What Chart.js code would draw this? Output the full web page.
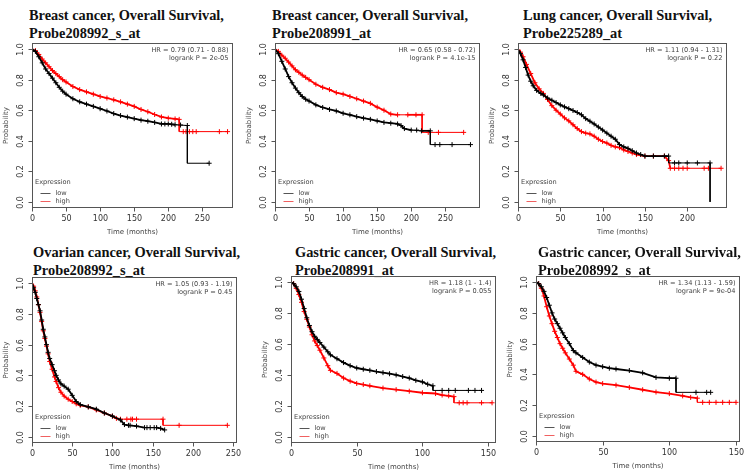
<!DOCTYPE html>
<html>
<head>
<meta charset="utf-8">
<script src="https://cdn.jsdelivr.net/npm/chart.js@4.4.1/dist/chart.umd.min.js"></script>
<style>
    html, body { margin: 0; padding: 0; background: #fff; }
    #page { position: relative; width: 745px; height: 474px; overflow: hidden; }
    .title {
        position: absolute;
        font-family: 'Liberation Serif', 'Times New Roman', serif;
        font-weight: bold;
        font-size: 15.5px;
        line-height: 18px;
        color: #111;
        white-space: nowrap;
        transform-origin: left top;
    }
    .title span { display: inline-block; }
    canvas { position: absolute; }
</style>
</head>
<body>
<div id="page"></div>
<script>
// Axis ticks
const yTicks = [0, 0.2, 0.4, 0.6, 0.8, 1.0];
const xTicks250 = [0, 50, 100, 150, 200, 250];
const xTicks200 = [0, 50, 100, 150, 200];
const xTicks150 = [0, 50, 100, 150];

// Breast cancer, Probe208992_s_at
const low1 = [[0,1],[5,0.985],[10,0.95],[15,0.91],[20,0.87],[25,0.84],[30,0.81],[35,0.78],[40,0.75],[45,0.725],[50,0.705],[60,0.675],[70,0.655],[80,0.64],[90,0.625],[100,0.61],[110,0.595],[120,0.578],[130,0.565],[140,0.555],[150,0.545],[160,0.535],[170,0.528],[180,0.52],[190,0.51],[200,0.51],[210,0.505],[228,0.5],[228,0.253],[260,0.253]];
const high1 = [[0,1],[5,0.99],[10,0.965],[15,0.935],[20,0.91],[25,0.885],[30,0.86],[35,0.84],[40,0.82],[45,0.8],[50,0.785],[60,0.755],[70,0.735],[80,0.72],[90,0.705],[100,0.69],[110,0.68],[120,0.668],[130,0.655],[140,0.64],[150,0.625],[160,0.605],[170,0.59],[180,0.572],[190,0.556],[200,0.548],[210,0.543],[216,0.54],[216,0.46],[287,0.46]];
const lowMarks1 = [[195,0.51],[205,0.508],[218,0.503]];
const highMarks1 = [[222,0.46],[226,0.46],[231,0.46],[236,0.46],[241,0.46],[275,0.46]];

// Breast cancer, Probe208991_at
const low2 = [[0,1],[5,0.97],[10,0.92],[15,0.87],[20,0.82],[25,0.78],[30,0.745],[35,0.715],[40,0.69],[45,0.672],[50,0.66],[60,0.635],[70,0.618],[80,0.605],[90,0.595],[100,0.58],[110,0.57],[120,0.558],[130,0.548],[140,0.54],[150,0.53],[160,0.52],[170,0.515],[180,0.51],[185,0.5],[190,0.48],[200,0.47],[215,0.465],[228,0.465],[228,0.375],[287,0.375]];
const high2 = [[0,1],[5,0.985],[10,0.96],[15,0.94],[20,0.915],[25,0.89],[30,0.865],[35,0.848],[40,0.83],[45,0.815],[50,0.8],[60,0.77],[70,0.75],[80,0.735],[90,0.715],[100,0.705],[110,0.69],[120,0.675],[130,0.66],[140,0.645],[150,0.62],[160,0.6],[170,0.575],[180,0.57],[195,0.57],[207,0.57],[216,0.57],[216,0.455],[277,0.455]];
const lowMarks2 = [[208,0.47],[235,0.375],[242,0.375],[260,0.375]];
const highMarks2 = [[225,0.455],[240,0.455]];

// Lung cancer, Probe225289_at
const low3 = [[0,1],[3,0.97],[6,0.93],[9,0.88],[12,0.83],[15,0.79],[18,0.76],[22,0.73],[27,0.71],[30,0.7],[35,0.68],[40,0.665],[45,0.65],[50,0.635],[55,0.622],[60,0.61],[65,0.598],[70,0.585],[75,0.57],[80,0.545],[85,0.528],[90,0.51],[95,0.49],[100,0.47],[105,0.45],[110,0.43],[115,0.41],[120,0.375],[125,0.36],[130,0.35],[135,0.335],[140,0.32],[145,0.31],[150,0.3],[160,0.3],[173,0.3],[178,0.3],[178,0.255],[227,0.255],[227,0]];
const high3 = [[0,1],[3,0.98],[6,0.95],[10,0.9],[15,0.84],[20,0.78],[25,0.74],[30,0.71],[35,0.67],[40,0.63],[45,0.6],[50,0.575],[55,0.55],[60,0.53],[65,0.505],[70,0.48],[75,0.46],[80,0.45],[85,0.445],[90,0.43],[95,0.41],[100,0.395],[105,0.385],[110,0.37],[115,0.36],[120,0.355],[125,0.34],[130,0.33],[135,0.32],[140,0.31],[150,0.3],[160,0.3],[173,0.3],[178,0.27],[180,0.22],[240,0.22]];
const lowMarks3 = [[185,0.255],[190,0.255],[200,0.255],[212,0.255]];
const highMarks3 = [[185,0.22],[190,0.22],[195,0.22],[200,0.22],[220,0.22],[225,0.22]];

// Ovarian cancer, Probe208992_s_at
const low4 = [[0,1],[2,0.97],[4,0.94],[6,0.9],[8,0.86],[10,0.82],[12,0.76],[14,0.7],[16,0.65],[18,0.6],[20,0.55],[22,0.51],[25,0.47],[28,0.43],[30,0.4],[33,0.37],[36,0.345],[40,0.33],[45,0.31],[50,0.27],[55,0.23],[60,0.21],[70,0.195],[80,0.18],[90,0.155],[100,0.135],[110,0.11],[115,0.08],[120,0.075],[130,0.07],[140,0.06],[155,0.06],[160,0.055],[165,0.045]];
const high4 = [[0,1],[2,0.98],[4,0.95],[6,0.91],[8,0.86],[10,0.81],[12,0.75],[14,0.69],[16,0.64],[18,0.59],[20,0.54],[22,0.49],[25,0.44],[28,0.39],[30,0.36],[33,0.32],[36,0.29],[40,0.265],[45,0.245],[50,0.23],[55,0.215],[60,0.205],[70,0.195],[80,0.175],[90,0.155],[100,0.135],[105,0.12],[110,0.115],[125,0.115],[163,0.115],[163,0.075],[243,0.075]];
const lowMarks4 = [[122,0.075],[143,0.06],[147,0.06],[152,0.06]];
const highMarks4 = [[118,0.115],[123,0.115],[130,0.115],[183,0.075]];

// Gastric cancer, Probe208991_at
const low5 = [[0,1],[2,0.99],[4,0.97],[6,0.94],[8,0.89],[10,0.83],[12,0.77],[14,0.72],[16,0.68],[18,0.65],[20,0.63],[22,0.61],[25,0.58],[28,0.55],[30,0.53],[35,0.505],[40,0.48],[45,0.46],[50,0.445],[55,0.437],[60,0.43],[65,0.422],[70,0.415],[75,0.408],[80,0.4],[85,0.39],[90,0.38],[95,0.365],[100,0.355],[104,0.34],[108,0.33],[108,0.3],[145,0.3]];
const high5 = [[0,1],[2,0.99],[4,0.96],[6,0.92],[8,0.87],[10,0.81],[12,0.76],[14,0.71],[16,0.66],[18,0.62],[20,0.59],[22,0.56],[25,0.51],[28,0.46],[30,0.43],[35,0.41],[40,0.38],[45,0.36],[50,0.345],[55,0.338],[60,0.33],[70,0.315],[80,0.305],[90,0.295],[100,0.285],[110,0.28],[115,0.27],[120,0.265],[124,0.26],[124,0.22],[153,0.22]];
const lowMarks5 = [[115,0.3],[120,0.3],[125,0.3],[135,0.3],[140,0.3]];
const highMarks5 = [[128,0.22],[131,0.22],[134,0.22],[145,0.22]];

// Gastric cancer, Probe208992_s_at
const low6 = [[0,1],[2,0.99],[4,0.97],[6,0.94],[8,0.9],[10,0.85],[12,0.8],[14,0.76],[16,0.73],[18,0.7],[20,0.67],[22,0.64],[25,0.6],[28,0.555],[30,0.54],[35,0.51],[40,0.48],[45,0.46],[50,0.45],[55,0.44],[60,0.435],[70,0.425],[80,0.41],[90,0.38],[100,0.375],[105,0.375],[105,0.283],[131,0.283]];
const high6 = [[0,1],[2,0.99],[4,0.96],[6,0.91],[8,0.84],[10,0.78],[12,0.73],[14,0.68],[16,0.64],[18,0.6],[20,0.57],[22,0.54],[25,0.5],[28,0.46],[30,0.42],[35,0.4],[40,0.37],[45,0.35],[50,0.34],[60,0.33],[70,0.315],[80,0.3],[90,0.285],[100,0.275],[110,0.26],[116,0.25],[121,0.245],[121,0.218],[150,0.218]];
const lowMarks6 = [[120,0.283],[128,0.283]];
const highMarks6 = [[125,0.218],[130,0.218],[135,0.218],[140,0.218],[145,0.218]];

// Texts
const titles = [
    ['Breast cancer, Overall Survival,', 'Probe208992_s_at'],
    ['Breast cancer, Overall Survival,', 'Probe208991_at'],
    ['Lung cancer, Overall Survival,', 'Probe225289_at'],
    ['Ovarian cancer, Overall Survival,', 'Probe208992_s_at'],
    ['Gastric cancer, Overall Survival,', 'Probe208991_at'],
    ['Gastric cancer, Overall Survival,', 'Probe208992_s_at']
];
const hrTexts = [
    ['HR = 0.79 (0.71 - 0.88)', 'logrank P = 2e-05'],
    ['HR = 0.65 (0.58 - 0.72)', 'logrank P = 4.1e-15'],
    ['HR = 1.11 (0.94 - 1.31)', 'logrank P = 0.22'],
    ['HR = 1.05 (0.93 - 1.19)', 'logrank P = 0.45'],
    ['HR = 1.18 (1 - 1.4)', 'logrank P = 0.055'],
    ['HR = 1.34 (1.13 - 1.59)', 'logrank P = 9e-04']
];
const legendLabels = ['low', 'high'];

// Panel layout: plot box [left, top, right, bottom], title position [left, top], title line width
const panels = [
    { low: low1, high: high1, lowMarks: lowMarks1, highMarks: highMarks1, xTicks: xTicks250, xMax: 295, box: [32, 43, 233, 208], head: [29, 6], headW: 195 },
    { low: low2, high: high2, lowMarks: lowMarks2, highMarks: highMarks2, xTicks: xTicks250, xMax: 301, box: [275, 43, 480, 208], head: [272, 6], headW: 196 },
    { low: low3, high: high3, lowMarks: lowMarks3, highMarks: highMarks3, xTicks: xTicks200, xMax: 247, box: [518, 43, 727, 208], head: [523, 6], headW: 189 },
    { low: low4, high: high4, lowMarks: lowMarks4, highMarks: highMarks4, xTicks: xTicks250, xMax: 255, box: [32, 277, 237, 443], head: [33, 243], headW: 207 },
    { low: low5, high: high5, lowMarks: lowMarks5, highMarks: highMarks5, xTicks: xTicks150, xMax: 156, box: [291, 276, 496, 443], head: [295, 243], headW: 201 },
    { low: low6, high: high6, lowMarks: lowMarks6, highMarks: highMarks6, xTicks: xTicks150, xMax: 153, box: [536, 276, 740, 442], head: [538, 243], headW: 203 }
];

const COLORS = { low: '#000000', high: '#ff0000' };
const SMALL_FONT = '6.6px "DejaVu Sans"';

// R-like box, axes, legend and HR annotation
const rAxes = {
    id: 'rAxes',
    afterDraw(chart, args, opts) {
        const { ctx, chartArea: a } = chart;
        const x = chart.scales.x;
        const y = chart.scales.y;
        const left = Math.round(a.left) + 0.5;
        const right = Math.round(a.right) - 0.5;
        const top = Math.round(a.top) + 0.5;
        const bottom = Math.round(a.bottom) - 0.5;

        ctx.save();
        ctx.strokeStyle = '#555';
        ctx.lineWidth = 1;
        ctx.strokeRect(left, top, right - left, bottom - top);

        // tick marks and labels
        ctx.fillStyle = '#333';
        ctx.font = '8px "DejaVu Sans"';
        ctx.textAlign = 'center';
        ctx.textBaseline = 'middle';
        ctx.beginPath();
        opts.xTicks.forEach(v => {
            const px = Math.round(x.getPixelForValue(v)) + 0.5;
            ctx.moveTo(px, bottom);
            ctx.lineTo(px, bottom + 4);
            ctx.fillText(String(v), px, bottom + 11);
        });
        yTicks.forEach(v => {
            const py = Math.round(y.getPixelForValue(v)) + 0.5;
            ctx.moveTo(left, py);
            ctx.lineTo(left - 4, py);
            ctx.save();
            ctx.translate(left - 11.5, py);
            ctx.rotate(-Math.PI / 2);
            ctx.fillText(v.toFixed(1), 0, 0);
            ctx.restore();
        });
        ctx.stroke();

        // axis titles
        ctx.fillStyle = '#444';
        ctx.font = '7px "DejaVu Sans"';
        ctx.fillText('Time (months)', (left + right) / 2, bottom + 25);
        ctx.save();
        ctx.translate(left - 26, (top + bottom) / 2);
        ctx.rotate(-Math.PI / 2);
        ctx.fillText('Probability', 0, 0);
        ctx.restore();

        // HR annotation
        ctx.font = SMALL_FONT;
        ctx.textAlign = 'right';
        ctx.fillText(opts.hr[0], right - 4, top + 6.5);
        ctx.fillText(opts.hr[1], right - 4, top + 15);

        // legend
        ctx.textAlign = 'left';
        ctx.fillText('Expression', left + 2.5, bottom - 25);
        legendLabels.forEach((label, i) => {
            const ly = Math.round(bottom - 15 + i * 8) + 0.5;
            ctx.strokeStyle = i === 0 ? '#555' : '#f06060';
            ctx.beginPath();
            ctx.moveTo(left + 8, ly);
            ctx.lineTo(left + 18, ly);
            ctx.stroke();
            ctx.fillText(label, left + 23, ly);
        });
        ctx.restore();
    }
};

function curveDataset(label, points, color) {
    return {
        label: label,
        data: points,
        borderColor: color,
        borderWidth: 1.8,
        tension: 0,
        fill: false,
        // thin line on long plateaus and drops, heavy where censor marks pile up
        segment: {
            borderWidth: ctx => {
                const dx = ctx.p1.parsed.x - ctx.p0.parsed.x;
                return (dx === 0 || dx >= 15) ? 1 : 1.8;
            }
        },
        pointStyle: 'cross',
        pointBorderColor: color,
        pointBorderWidth: 1,
        pointRadius: ctx => {
            const d = ctx.dataset.data;
            const i = ctx.dataIndex;
            // no censor mark at the start or at the foot of a drop
            return (i === 0 || d[i][0] === d[i - 1][0]) ? 0 : 2.5;
        }
    };
}

function marksDataset(label, points, color) {
    return {
        label: label,
        data: points,
        showLine: false,
        pointStyle: 'cross',
        pointBorderColor: color,
        pointBorderWidth: 1,
        pointRadius: 2.5
    };
}

function drawPanel(p, i) {
    const page = document.getElementById('page');
    const [L, T, R, B] = p.box;

    // title, squeezed to the width of the original lettering
    const head = document.createElement('div');
    head.className = 'title';
    head.style.left = p.head[0] + 'px';
    head.style.top = p.head[1] + 'px';
    head.innerHTML = '<span>' + titles[i][0] + '</span><br><span>' + titles[i][1] + '</span>';
    page.appendChild(head);
    const w = head.querySelector('span').getBoundingClientRect().width;
    head.style.transform = 'scaleX(' + (p.headW / w).toFixed(3) + ')';

    // chart canvas
    const canvas = document.createElement('canvas');
    canvas.width = R - L + 40;
    canvas.height = B - T + 40;
    canvas.style.left = (L - 34) + 'px';
    canvas.style.top = (T - 8) + 'px';
    page.appendChild(canvas);

    new Chart(canvas.getContext('2d'), {
        type: 'line',
        data: {
            datasets: [
                curveDataset(legendLabels[0], p.low, COLORS.low),
                curveDataset(legendLabels[1], p.high, COLORS.high),
                marksDataset('low censored', p.lowMarks, COLORS.low),
                marksDataset('high censored', p.highMarks, COLORS.high)
            ]
        },
        options: {
            responsive: false,
            animation: false,
            events: [],
            layout: { padding: { left: 34, top: 8, right: 6, bottom: 32 } },
            scales: {
                x: { type: 'linear', min: 0, max: p.xMax, display: false },
                y: { type: 'linear', min: -0.04, max: 1.04, display: false }
            },
            plugins: {
                legend: { display: false },
                tooltip: { enabled: false },
                rAxes: { xTicks: p.xTicks, hr: hrTexts[i] }
            }
        },
        plugins: [rAxes]
    });
}

panels.forEach(drawPanel);
</script>
</body>
</html>
